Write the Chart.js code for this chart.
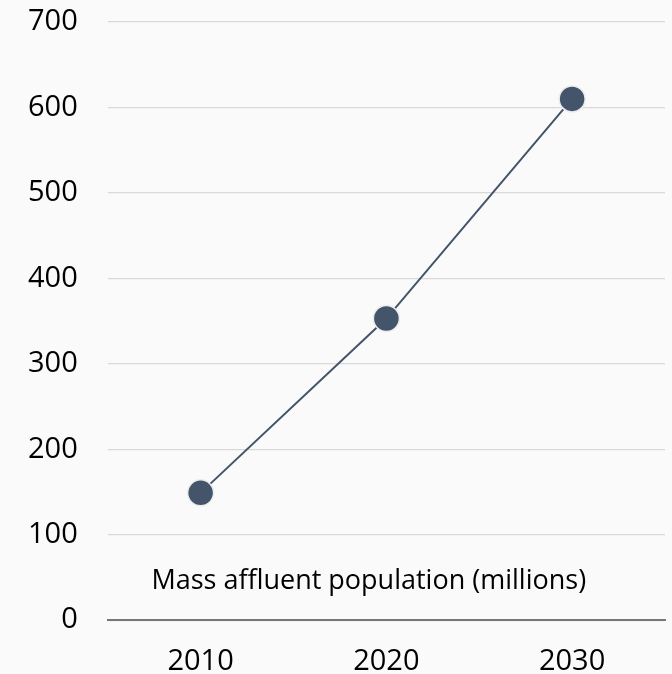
<!DOCTYPE html>
<html>
<head>
<meta charset="utf-8">
<script src="https://cdn.jsdelivr.net/npm/chart.js@4"></script>
<style>
  html, body { margin: 0; padding: 0; background: #fafafa; overflow: hidden; height: 674px; }
  /* canvas is a bit taller than the window: the x labels get clipped at the bottom like the original */
  #wrap { width: 672px; height: 703px; position: relative; }
</style>
</head>
<body>
<div id="wrap"><canvas id="chart"></canvas></div>
<script>
const years = ['2010', '2020', '2030'];
const population = [149, 353, 610];
const seriesLabel = 'Mass affluent population (millions)';

const labelFont = { family: 'Open Sans', size: 29 };

// draws the series name inside the plot, like the Excel legend
const innerLabel = {
  id: 'innerLabel',
  afterDraw(chart) {
    const { ctx, chartArea, scales } = chart;
    ctx.save();
    ctx.font = `27px "${labelFont.family}"`;
    ctx.fillStyle = '#000';
    ctx.textAlign = 'center';
    ctx.textBaseline = 'middle';
    ctx.fillText(seriesLabel, chartArea.left + 261, scales.y.getPixelForValue(45));
    ctx.restore();
  }
};

new Chart(document.getElementById('chart'), {
  type: 'line',
  data: {
    labels: years,
    datasets: [{
      label: seriesLabel,
      data: population,
      borderColor: '#44546a',
      borderWidth: 2,
      pointBackgroundColor: '#44546a',
      pointBorderColor: '#ececec',
      pointBorderWidth: 1.5,
      pointRadius: 13,
      tension: 0
    }]
  },
  options: {
    responsive: true,
    maintainAspectRatio: false,
    animation: false,
    layout: { autoPadding: false, padding: { top: 5, right: 7, left: -2, bottom: 0 } },
    plugins: { legend: { display: false }, tooltip: { enabled: false } },
    scales: {
      x: {
        offset: true,
        grid: { display: false, drawTicks: false },
        border: { display: true, color: '#777', width: 2 },
        ticks: { color: '#000', font: labelFont, padding: 24 }
      },
      y: {
        min: 0,
        max: 700,
        // v4 adds the tick padding to the top/bottom room, take it back
        afterFit(scale) { scale.paddingTop = 22; scale.paddingBottom = 17; },
        grid: { color: '#d9d9d9', lineWidth: 1.3, drawTicks: false },
        border: { display: false },
        ticks: { stepSize: 100, color: '#000', font: labelFont, padding: 30 }
      }
    }
  },
  plugins: [innerLabel]
});
</script>
</body>
</html>
